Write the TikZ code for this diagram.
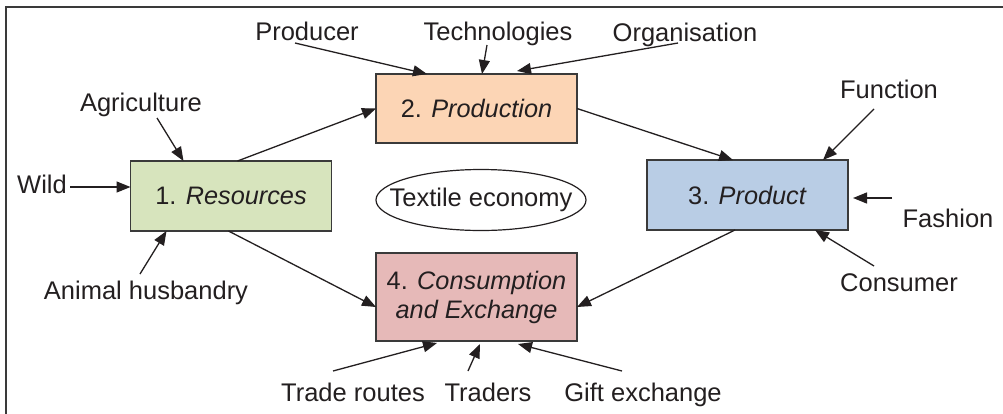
\documentclass[tikz,border=0pt]{standalone}
\usepackage{fontspec}
\setmainfont{Liberation Sans}
\usetikzlibrary{arrows.meta,shapes.geometric}
\definecolor{ink}{HTML}{231F20}
\definecolor{resfill}{HTML}{D7E4BD}
\definecolor{prodfill}{HTML}{FCD5B5}
\definecolor{pdtfill}{HTML}{B9CDE5}
\definecolor{consfill}{HTML}{E6B9B8}
\definecolor{edge}{HTML}{3A3A3A}
\tikzset{
  stagebox/.style={draw=edge, line width=1.3pt, rectangle, minimum width=201pt, inner sep=0pt, outer sep=0pt, text=ink, font=\fontsize{25.3}{30}\selectfont},
  lbl/.style={anchor=base, inner sep=0pt, text=ink, font=\fontsize{25.5}{30}\selectfont},
  feed/.style={draw=ink, line width=1.3pt, -{Triangle[length=14pt,width=11pt]}},
}
\begin{document}
\begin{tikzpicture}[x=1pt,y=-1pt]
\useasboundingbox (0,0) rectangle (1003,413);
\fill[white] (0,0) rectangle (1003,413);
\begin{scope}
\clip (0,0) rectangle (1003,413);
\draw[edge, line width=1.2pt] (6,7) rectangle (1015,425);
\end{scope}

% stage boxes
\node[stagebox, fill=resfill, minimum height=70pt] (res) at (231,196) {1. \textit{Resources}};
\node[stagebox, fill=prodfill, minimum height=69pt] (prod) at (476.5,108.5) {2. \textit{Production}};
\node[stagebox, fill=pdtfill, minimum height=70pt] (pdt) at (747.5,195) {3. \textit{Product}};
\node[stagebox, fill=consfill, minimum height=88pt, align=center] (cons) at (476.5,297) {4. \textit{Consumption}\\[-1pt]\textit{and Exchange}};
\node[inner sep=0pt, text=ink, font=\fontsize{25.5}{30}\selectfont] (econ) at (481,200) {Textile economy};
\draw[ink, line width=1.2pt] (481,200) ellipse [x radius=105pt, y radius=30.5pt];

% labels
\node[lbl] (producer) at (307,40) {Producer};
\node[lbl] (tech) at (498,40) {Technologies};
\node[lbl] (org) at (685,41) {Organisation};
\node[lbl] (agri) at (141,111) {Agriculture};
\node[lbl] (wild) at (42,193) {Wild};
\node[lbl] (animal) at (146,299) {Animal husbandry};
\node[lbl] (func) at (889,98) {Function};
\node[lbl] (fash) at (948,227) {Fashion};
\node[lbl] (consumer) at (899,291) {Consumer};
\node[lbl] (trade) at (353,401) {Trade routes};
\node[lbl] (traders) at (488,401) {Traders};
\node[lbl] (gift) at (643,401) {Gift exchange};

% arrow start points near labels
\coordinate (wildS) at (70,187);
\coordinate (agriS) at (157,118);
\coordinate (animalS) at (140,274);
\coordinate (producerS) at (295,43);
\coordinate (techS) at (487,45);
\coordinate (orgS) at (678,43);
\coordinate (funcS) at (874,109);
\coordinate (fashS) at (892,198);
\coordinate (consumerS) at (874,266);
\coordinate (tradeS) at (333,371);
\coordinate (tradersS) at (468,371);
\coordinate (giftS) at (622,371);

% main flow
\draw[feed] ([xshift=107pt]res.north west) -- (prod.west);
\draw[feed] ([xshift=98pt]res.south west) -- ([yshift=-10pt]cons.west);
\draw[feed] (prod.east) -- ([xshift=86pt]pdt.north west);
\draw[feed] ([xshift=88pt]pdt.south west) -- ([yshift=-10pt]cons.east);

% inputs
\draw[feed] (wildS) -- ([yshift=9pt]res.west);
\draw[feed] (agriS) -- ([xshift=53pt]res.north west);
\draw[feed] (animalS) -- ([xshift=36pt]res.south west);
\draw[feed] (producerS) -- ([xshift=51pt]prod.north west);
\draw[feed] (techS) -- ([xshift=106pt]prod.north west);
\draw[feed] (orgS) -- ([xshift=141pt,yshift=3pt]prod.north west);
\draw[feed] (funcS) -- ([xshift=176pt]pdt.north west);
\draw[feed] (fashS) -- ([xshift=5pt,yshift=-3pt]pdt.east);
\draw[feed] (consumerS) -- ([xshift=168pt]pdt.south west);
\draw[feed] (tradeS) -- ([xshift=61pt,yshift=-2pt]cons.south west);
\draw[feed] (tradersS) -- ([xshift=104pt,yshift=-3pt]cons.south west);
\draw[feed] (giftS) -- ([xshift=142pt,yshift=-3pt]cons.south west);
\end{tikzpicture}
\end{document}
